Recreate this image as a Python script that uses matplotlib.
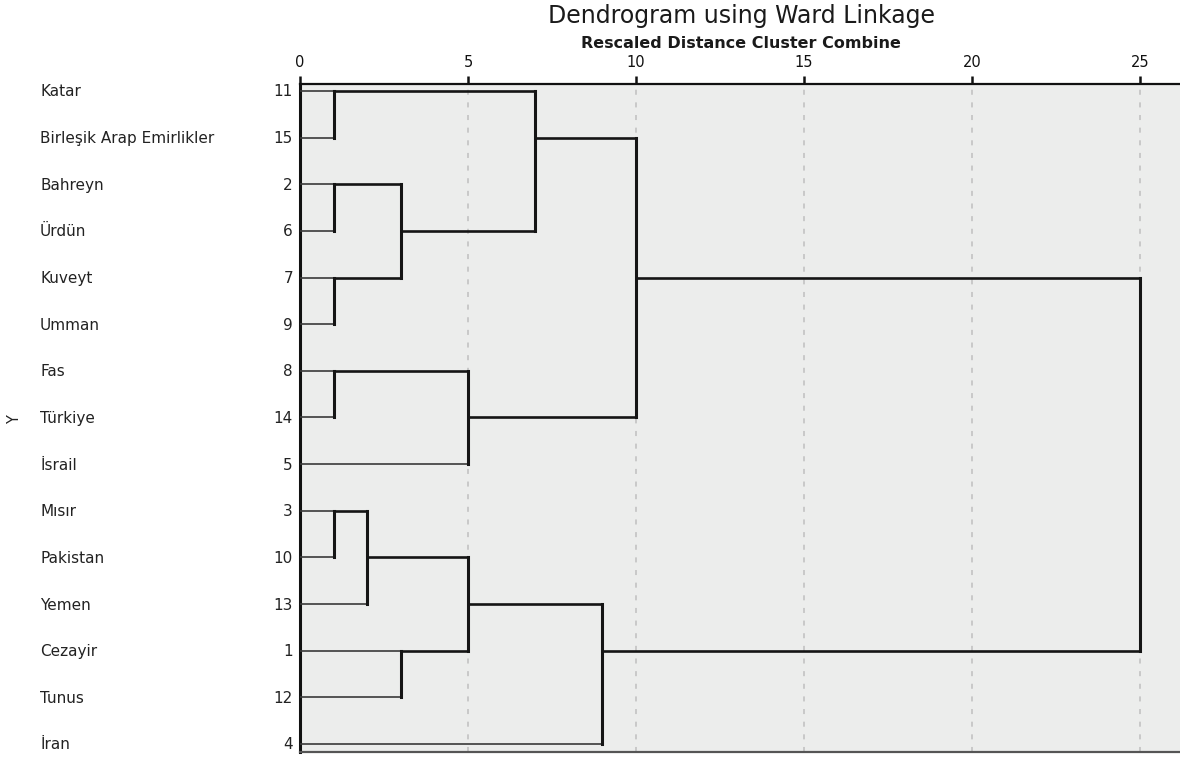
import math
import matplotlib
matplotlib.use("Agg")
import matplotlib.pyplot as plt

plt.rcParams['font.family'] = ['DejaVu Sans']

# ---- data ----
labels = ["Katar", "Birleşik Arap Emirlikler", "Bahreyn", "Ürdün", "Kuveyt",
          "Umman", "Fas", "Türkiye", "İsrail", "Mısır", "Pakistan", "Yemen",
          "Cezayir", "Tunus", "İran"]
case_numbers = [11, 15, 2, 6, 7, 9, 8, 14, 5, 3, 10, 13, 1, 12, 4]
# merges: (child_a, child_b, rescaled distance); new cluster ids start at 15
merge_a = [0, 2, 4, 16, 15, 6, 20, 19, 9, 23, 12, 24, 26, 22]
merge_b = [1, 3, 5, 17, 18, 7, 8, 21, 10, 11, 13, 25, 14, 27]
merge_h = [1, 1, 1, 3, 7, 1, 5, 10, 1, 2, 3, 5, 9, 25]
x_ticks = [0, 5, 10, 15, 20, 25]
title = "Dendrogram using Ward Linkage"
subtitle = "Rescaled Distance Cluster Combine"
ylabel = "Y"

W, H = 1180, 758
fig = plt.figure(figsize=(W / 100, H / 100), dpi=100)
ax_left, ax_right, ax_top, ax_bot = 300, 1180, 84, 752
ax = fig.add_axes([ax_left / W, 1 - ax_bot / H, (ax_right - ax_left) / W, (ax_bot - ax_top) / H])
ax.set_facecolor("#ecedec")

n = len(labels)
px_per_unit = 33.6
ax.set_xlim(0, (ax_right - ax_left) / px_per_unit)
row_px = 46.64
first_row_px = 91
ax.set_ylim(n - 1 + (ax_bot - 744) / row_px, -(first_row_px - ax_top) / row_px)

# gridlines
for t in x_ticks[1:]:
    ax.axvline(t, color="#c6c6c6", lw=1.3, linestyle=(0, (2.8, 4.2)), zorder=1)

# dendrogram
rows = {i: i for i in range(n)}
heights = {i: 0 for i in range(n)}
line_col = "#151515"
for k, (a, b, h) in enumerate(zip(merge_a, merge_b, merge_h)):
    for c in (a, b):
        lw = 1.2 if c < n else 1.9
        col = "#3a3a3a" if c < n else line_col
        ax.plot([heights[c], h], [rows[c], rows[c]], color=col, lw=lw,
                solid_capstyle="butt", zorder=3)
    ax.plot([h, h], [rows[a], rows[b]], color=line_col, lw=2.2,
            solid_capstyle="projecting", zorder=4)
    new_id = n + k
    rows[new_id] = math.floor((rows[a] + rows[b]) / 2)
    heights[new_id] = h

# axes styling
ax.spines["right"].set_visible(False)
ax.spines["top"].set_color("#111111")
ax.spines["top"].set_linewidth(1.6)
ax.spines["left"].set_color("#111111")
ax.spines["left"].set_linewidth(2.2)
ax.spines["bottom"].set_color("#555555")
ax.spines["bottom"].set_linewidth(1.6)

ax.xaxis.tick_top()
ax.set_xticks(x_ticks)
ax.set_xticklabels([str(t) for t in x_ticks], fontsize=10.5, color="#111111")
ax.tick_params(axis="x", direction="out", length=6, width=1.8, pad=4, color="#111111")
ax.set_yticks([])

# row labels (case numbers and names)
for i, (lab, num) in enumerate(zip(labels, case_numbers)):
    ybase = 1 - (first_row_px + i * row_px + 5.5) / H
    fig.text((ax_left - 7) / W, ybase, str(num), ha="right", va="baseline",
             fontsize=11, color="#222222")
    fig.text(40 / W, ybase, lab, ha="left", va="baseline",
             fontsize=11, color="#222222")

fig.text(15 / W, 1 - 420 / H, ylabel, rotation=90, ha="center", va="center",
         fontsize=10.5, color="#222222")

cx = (ax_left + ax_right) / 2 / W + 1 / W
fig.text(cx, 1 - 23 / H, title, ha="center", va="baseline", fontsize=17,
         color="#1a1a1a")
fig.text(cx, 1 - 48 / H, subtitle, ha="center", va="baseline", fontsize=11.5,
         fontweight="bold", color="#1a1a1a")

fig.savefig("out.png", dpi=100)
